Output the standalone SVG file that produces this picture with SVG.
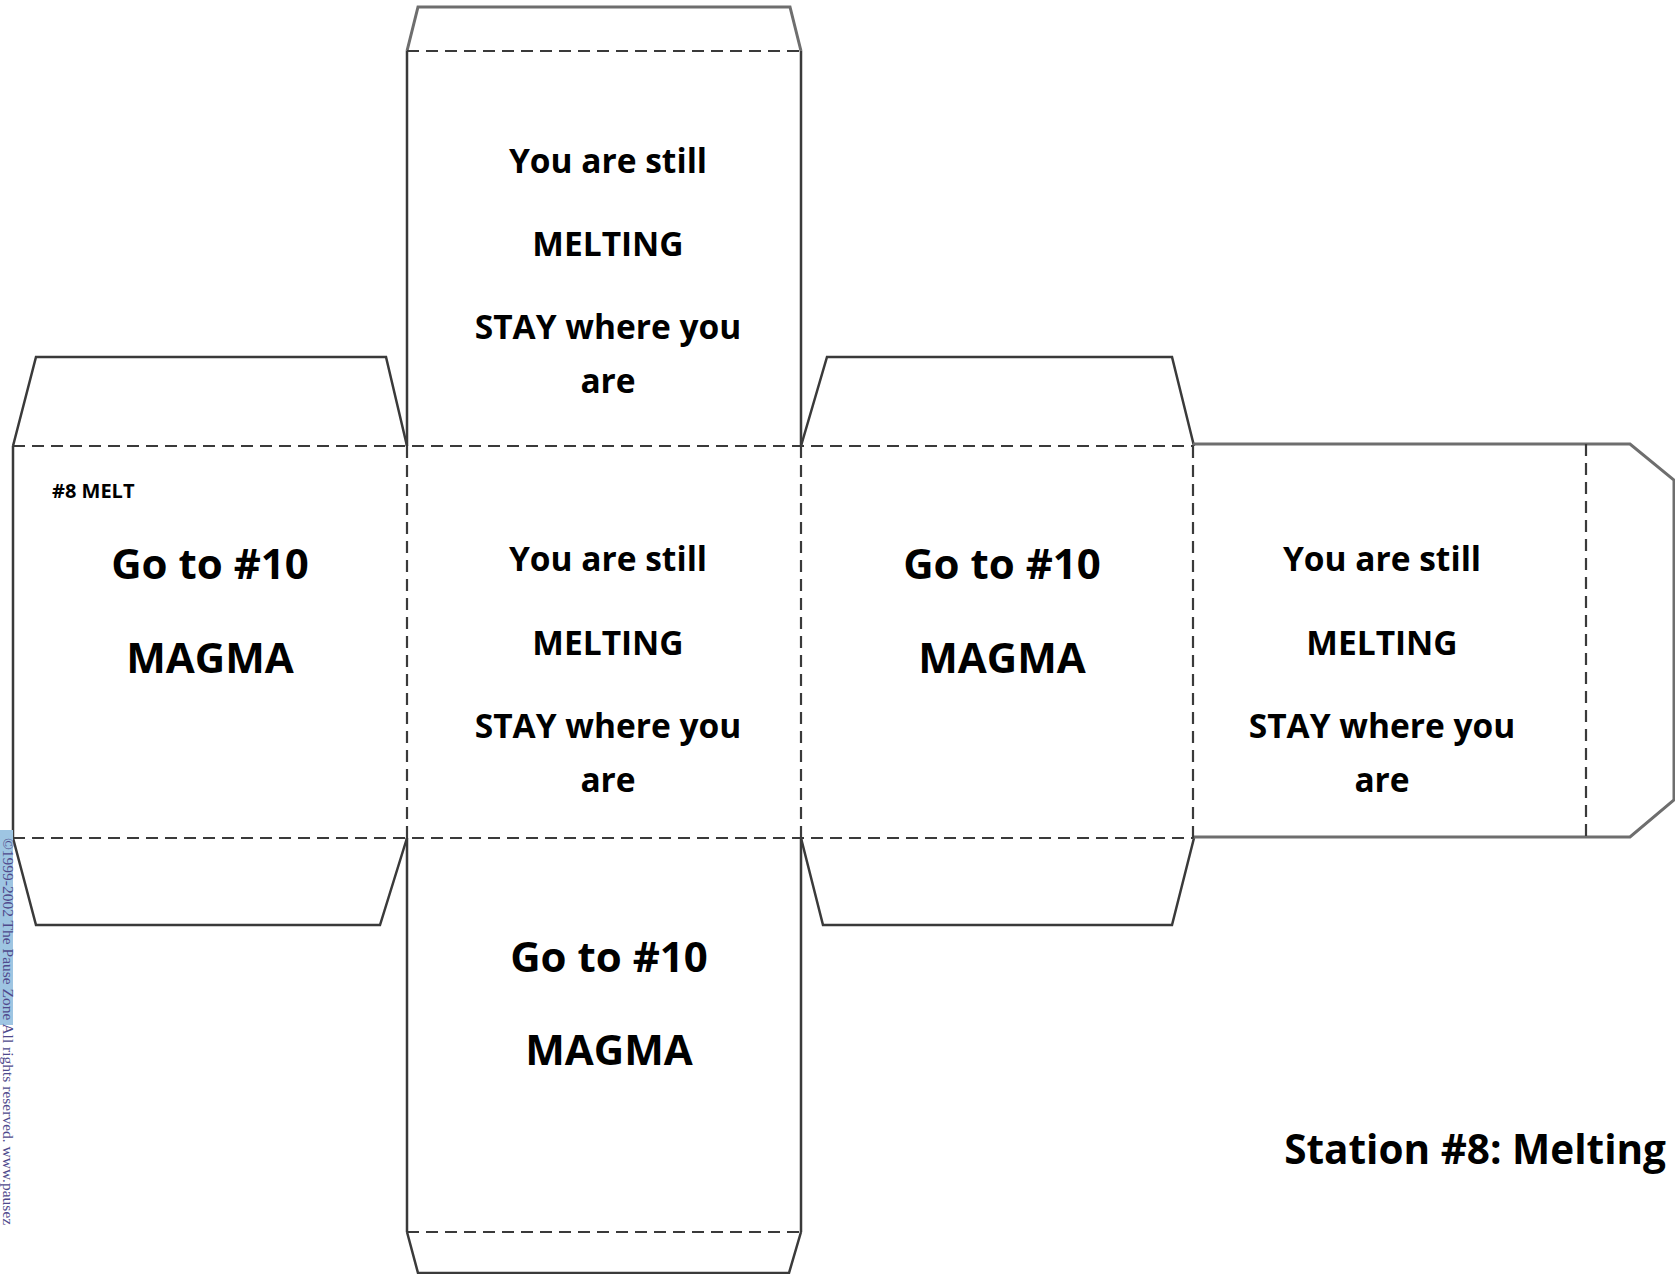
<svg xmlns="http://www.w3.org/2000/svg" width="1675" height="1274" viewBox="0 0 1675 1274">
<style>
.cut{fill:none;stroke:#3a3a3a;stroke-width:2.5;stroke-linejoin:miter}
.cutg{fill:none;stroke:#6e6e6e;stroke-width:3}
.fold{fill:none;stroke:#3a3a3a;stroke-width:2.2;stroke-dasharray:12 7}
.t{font-family:"Open Sans","Noto Sans",sans-serif;font-weight:bold;fill:#000;text-anchor:middle}
.m{font-size:33.5px}
.b{font-size:42px}
</style>
<rect width="1675" height="1274" fill="#fff"/>
<g id="connectors">
<path class="cutg" d="M407,51 L418,7 L790,7 L801,51"/>
<path class="cut" d="M407,51 V446 M801,51 V446"/>
<path class="cut" d="M13,446 L36,357 L386,357 L407,446"/>
<path class="cut" d="M13,446 V838"/>
<path class="cut" d="M13,838 L36,925 L380,925 L407,838"/>
<path class="cut" d="M407,838 V1232 M801,838 V1232"/>
<path class="cut" d="M407,1232 L418,1273 L789,1273 L801,1232"/>
<path class="cut" d="M801,446 L827,357 L1172,357 L1194,446"/>
<path class="cut" d="M801,838 L823,925 L1172,925 L1194,838"/>
<path class="cutg" d="M1193,444 L1630,444 L1674,480 L1674,800 L1630,837 L1193,837"/>
<path class="fold" d="M407,51 H801 M13,446 H1193 M13,838 H1193 M407,1232 H801"/>
<path class="fold" d="M407,446 V838 M801,446 V838 M1193,446 V838 M1586,444 V837"/>
</g>
<g id="face-top">
<text class="t m" x="608" y="173">You are still</text>
<text class="t m" x="608" y="256">MELTING</text>
<text class="t m" x="608" y="339">STAY where you</text>
<text class="t m" x="608" y="393">are</text>
</g>
<g id="face-left">
<text class="t" x="52" y="498" style="font-size:20px;text-anchor:start">#8 MELT</text>
<text class="t b" x="210" y="579">Go to #10</text>
<text class="t b" x="210" y="673">MAGMA</text>
</g>
<g id="face-center">
<text class="t m" x="608" y="571">You are still</text>
<text class="t m" x="608" y="655">MELTING</text>
<text class="t m" x="608" y="738">STAY where you</text>
<text class="t m" x="608" y="792">are</text>
</g>
<g id="face-right">
<text class="t b" x="1002" y="579">Go to #10</text>
<text class="t b" x="1002" y="673">MAGMA</text>
</g>
<g id="face-far-right">
<text class="t m" x="1382" y="571">You are still</text>
<text class="t m" x="1382" y="655">MELTING</text>
<text class="t m" x="1382" y="738">STAY where you</text>
<text class="t m" x="1382" y="792">are</text>
</g>
<g id="face-bottom">
<text class="t b" x="609" y="972">Go to #10</text>
<text class="t b" x="609" y="1065">MAGMA</text>
</g>
<g id="title">
<text class="t" x="1666" y="1164" style="font-size:40.5px;text-anchor:end">Station #8: Melting</text>
</g>
<g id="watermark">
<rect x="0" y="830" width="13" height="195" fill="#9ec5e2"/>
<text transform="translate(3,838) rotate(90)" style="font-family:'Liberation Serif',serif;font-size:15.5px;fill:#4f4a8c">©1999-2002 The Pause Zone All rights reserved. www.pausez</text>
</g>
</svg>
